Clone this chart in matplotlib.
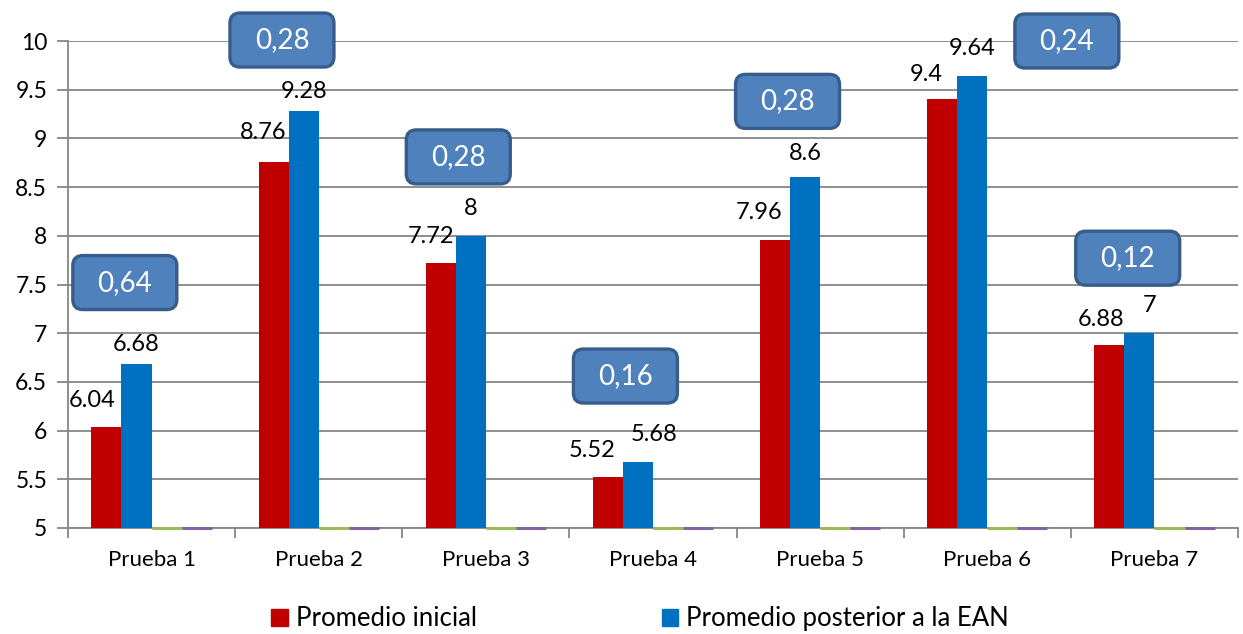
import numpy as np
import matplotlib
matplotlib.use("Agg")
import matplotlib.pyplot as plt
import matplotlib.transforms as mtransforms
from matplotlib.patches import FancyBboxPatch, Patch

plt.rcParams['font.family'] = ['Lato', 'DejaVu Sans']

pruebas = ['Prueba 1', 'Prueba 2', 'Prueba 3', 'Prueba 4', 'Prueba 5', 'Prueba 6', 'Prueba 7']
inicial = [6.04, 8.76, 7.72, 5.52, 7.96, 9.4, 6.88]
posterior = [6.68, 9.28, 8, 5.68, 8.6, 9.64, 7]
serie3 = [0, 0, 0, 0, 0, 0, 0]
serie4 = [0, 0, 0, 0, 0, 0, 0]
diferencias = ['0,64', '0,28', '0,28', '0,16', '0,28', '0,24', '0,12']

# label placement (pixels from bar top) and callout anchors
off_ini = [(-14, 26), (-10, 29), (-10, 27), (-16, 27), (-16, 27), (-16, 25), (-8, 25)]
off_post = [(0, 20), (0, 20), (0, 27), (16, 27), (0, 24), (0, 28), (10, 28)]
call_dx = [-0.16, -0.22, -0.165, -0.165, -0.195, 0.476, -0.16]
call_y = [7.52, 10.01, 8.81, 6.56, 9.38, 10.0, 7.77]

RED = '#C00000'
BLUE = '#0070C0'
GRID = '#868686'

fig = plt.figure(figsize=(12.43, 6.34), dpi=100)
ax = fig.add_axes([68 / 1243, 106 / 634, 1170 / 1243, 487 / 634])

x = np.arange(len(pruebas))
w = 0.18
base = 5
ax.bar(x - 0.27, np.array(inicial) - base, w, bottom=base, color=RED, zorder=3)
ax.bar(x - 0.09, np.array(posterior) - base, w, bottom=base, color=BLUE, zorder=3)
ax.bar(x + 0.09, serie3, w, bottom=base, color='#9BBB59', edgecolor='#9BBB59', lw=2.2, zorder=4, clip_on=False)
ax.bar(x + 0.27, serie4, w, bottom=base, color='#8064A2', edgecolor='#8064A2', lw=2.2, zorder=4, clip_on=False)

for i in range(len(pruebas)):
    ax.annotate(f'{inicial[i]:g}', (x[i] - 0.27, inicial[i]), xytext=off_ini[i],
                textcoords='offset pixels', ha='center', va='center', fontsize=17)
    ax.annotate(f'{posterior[i]:g}', (x[i] - 0.09, posterior[i]), xytext=off_post[i],
                textcoords='offset pixels', ha='center', va='center', fontsize=17)

# rounded callouts with the difference
for i in range(len(pruebas)):
    cx, cy = x[i] + call_dx[i], call_y[i]
    tr = fig.dpi_scale_trans + mtransforms.ScaledTranslation(cx, cy, ax.transData)
    box = FancyBboxPatch((-0.52, -0.27), 1.04, 0.54, boxstyle='round,pad=0,rounding_size=0.1',
                         fc='#4F81BD', ec='#385D8A', lw=2.4, transform=tr, clip_on=False, zorder=5)
    ax.add_patch(box)
    ax.text(cx, cy, diferencias[i], ha='center', va='center', color='white',
            fontsize=20, zorder=6, clip_on=False)

ax.set_xlim(-0.5, len(pruebas) - 0.5)
ax.set_ylim(5, 10)
ax.set_yticks(np.arange(5, 10.01, 0.5))
ax.set_yticklabels([f'{v:g}' for v in np.arange(5, 10.01, 0.5)], fontsize=16.5)
ax.yaxis.grid(True, color=GRID, lw=1.3, zorder=0)
ax.set_axisbelow(True)
ax.tick_params(axis='y', length=8, color=GRID, width=1.3, pad=7)

ax.set_xticks(x)
ax.set_xticklabels(pruebas, fontsize=16)
ax.set_xticks(np.arange(-0.5, len(pruebas)), minor=True)
ax.tick_params(axis='x', which='major', length=0, pad=16)
ax.tick_params(axis='x', which='minor', length=7, color=GRID, width=1.3)

for s in ['top', 'right']:
    ax.spines[s].set_visible(False)
for s in ['left', 'bottom']:
    ax.spines[s].set_color(GRID)
    ax.spines[s].set_linewidth(1.3)

handles = [Patch(color=RED, label='Promedio inicial'),
           Patch(color=BLUE, label='Promedio posterior a la EAN')]
fig.legend(handles=handles, loc='center', bbox_to_anchor=(0.515, 0.024), ncol=2, frameon=False,
           fontsize=18.5, handlelength=0.65, handleheight=0.65, handletextpad=0.3, columnspacing=7.2)

fig.savefig('out.png', dpi=100)
